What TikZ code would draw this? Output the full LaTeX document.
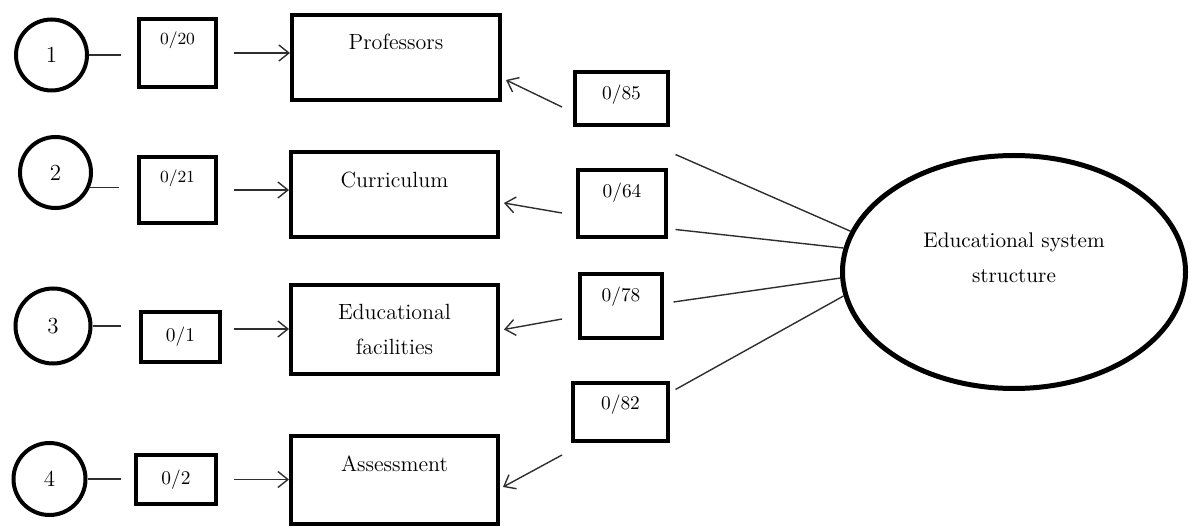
\documentclass[tikz,border=0pt]{standalone}
\usetikzlibrary{arrows.meta,shapes.geometric}
\definecolor{lncol}{HTML}{2E2E2E}
\begin{document}
\begin{tikzpicture}[x=0.5pt,y=-0.5pt,
  circ/.style={draw=black,line width=2pt,circle,inner sep=0pt,font=\fontsize{11.5}{12}\selectfont},
  sbox/.style={draw=black,line width=2pt,rectangle,inner sep=0pt},
  bbox/.style={draw=black,line width=2pt,rectangle,inner sep=0pt,align=center,font=\fontsize{11}{17.5}\selectfont},
  bigtxt/.style={font=\fontsize{11}{17.5}\selectfont,align=center},
  numA/.style={font=\fontsize{8.5}{10}\selectfont},
  numB/.style={font=\fontsize{9.7}{11}\selectfont},
  conn/.style={draw=lncol,line width=0.7pt},
  arr/.style={conn,-{Straight Barb[length=5pt,width=8pt]}},
]
\useasboundingbox (0,0) rectangle (1189,529);

% circles
\node[circ,minimum size=35.5pt] (c1) at (51.5,55) {\raisebox{-1.5pt}{1}};
\node[circ,minimum size=35.5pt] (c2) at (55.5,172.5) {\raisebox{-2pt}{2}};
\node[circ,minimum size=37.5pt] (c3) at (53,326) {3};
\node[circ,minimum size=36pt] (c4) at (49.5,479) {4};

% left small boxes
\node[sbox,minimum width=38.5pt,minimum height=34pt,label={[numA,yshift=6.5pt]center:0/20}] (b1) at (177.5,53) {};
\node[sbox,minimum width=38.5pt,minimum height=33pt,label={[numA,yshift=6pt]center:0/21}] (b2) at (177.5,190) {};
\node[sbox,minimum width=39.5pt,minimum height=25pt,numB] (b3) at (180.5,337) {0/1};
\node[sbox,minimum width=40pt,minimum height=24.5pt,numB] (b4) at (176,479.5) {0/2};

% big boxes
\node[bbox,minimum width=104pt,minimum height=42.5pt,label={[bigtxt,yshift=7.75pt]center:Professors}] (p) at (396,57.5) {};
\node[bbox,minimum width=103.5pt,minimum height=42.5pt,label={[bigtxt,yshift=7.25pt]center:Curriculum}] (cu) at (394.5,194.5) {};
\node[bbox,minimum width=103.5pt,minimum height=44.5pt] (ef) at (394.5,329.5) {Educational\\facilities};
\node[bbox,minimum width=103.5pt,minimum height=44pt,label={[bigtxt,yshift=8pt]center:Assessment}] (asm) at (394.5,480) {};

% right small boxes
\node[sbox,minimum width=46.5pt,minimum height=26.5pt,label={[numB,yshift=1.75pt]center:0/85}] (r1) at (621.5,98.5) {};
\node[sbox,minimum width=44pt,minimum height=33.5pt,label={[numB,yshift=5.25pt]center:0/64}] (r2) at (622,203.5) {};
\node[sbox,minimum width=41pt,minimum height=32pt,label={[numB,yshift=4.5pt]center:0/78}] (r3) at (621,306) {};
\node[sbox,minimum width=47.5pt,minimum height=29pt,label={[numB,yshift=3.5pt]center:0/82}] (r4) at (620.5,412) {};

% ellipse
\node[draw=black,line width=2.5pt,ellipse,inner sep=0pt,minimum width=171.5pt,minimum height=116.5pt,
  label={[font=\fontsize{10.6}{17.5}\selectfont,align=center,yshift=7.25pt]center:Educational system\\structure}] (e) at (1014,272) {};

% circle to small box lines
\draw[conn,shorten >=8pt] (c1.east) -- (c1.east -| b1.west);
\draw[conn,shorten >=9pt] (c2.-24) -- (c2.-24 -| b2.west);
\draw[conn,shorten >=9pt] (c3.east) -- (c3.east -| b3.west);
\draw[conn,shorten >=6.5pt] (c4.east) -- (c4.east -| b4.west);

% small box to big box arrows
\draw[arr,shorten <=8pt] (b1.east) -- (b1.east -| p.west);
\draw[arr,shorten <=8pt] (b2.east) -- (b2.east -| cu.west);
\draw[arr,shorten <=6pt] ([yshift=4pt]b3.east) -- ([yshift=4pt]b3.east -| ef.west);
\draw[arr,shorten <=8pt] (b4.east) -- (b4.east -| asm.west);

% right boxes to big boxes
\draw[arr] ([xshift=-5.5pt,yshift=-4.25pt]r1.west) -- ([xshift=2pt,yshift=-11.25pt]p.east);
\draw[arr] ([xshift=-7pt,yshift=-4.75pt]r2.west) -- ([xshift=2pt,yshift=-4.25pt]cu.east);
\draw[arr] ([xshift=-8pt,yshift=-6.5pt]r3.west) -- ([xshift=2pt]ef.east);
\draw[arr] ([xshift=-4.5pt,yshift=-6pt]r4.south west) -- ([xshift=1.5pt,yshift=-3.5pt]asm.east);

% ellipse to right boxes
\draw[conn] ([xshift=3.75pt,yshift=6.75pt]r2.north east) -- (e.166.7);
\draw[conn] ([xshift=3.75pt,yshift=4.75pt]r2.south east) -- (e.172.9);
\draw[conn] ([xshift=4.75pt,yshift=2pt]r3.east) -- (e.182);
\draw[conn] ([xshift=2.75pt,yshift=-4.25pt]r4.north east) -- (e.188);
\end{tikzpicture}
\end{document}
